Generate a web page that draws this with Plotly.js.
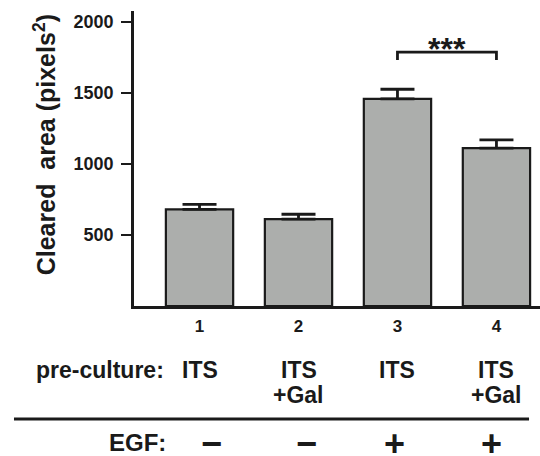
<!DOCTYPE html>
<html>
<head>
<meta charset="utf-8">
<script src="https://cdn.plot.ly/plotly-3.0.1.min.js"></script>
<style>html,body{margin:0;padding:0;background:#fff}#chart{width:540px;height:456px}</style>
</head>
<body>
<div id="chart"></div>
<script>
const groups = [1, 2, 3, 4];
const groupLabels = ["1", "2", "3", "4"];
const clearedArea = [681, 611, 1458, 1111];
const errorUp = [35, 35, 68, 58];
const preCulture = ["ITS", "ITS", "ITS", "ITS"];
const preCultureExtra = ["", "+Gal", "", "+Gal"];
const egf = ["\u2212", "\u2212", "+", "+"];
const yTicks = [500, 1000, 1500, 2000];
const sigPair = [3, 4];
const sigLabel = "***";
const sigLevel = 1788;

const FONT = "Liberation Sans, Arial, Helvetica, sans-serif";
const INK = "#1a1a1a";
const bold = (size) => ({family: FONT, size: size, color: INK, weight: "bold"});

const trace = {
  type: "bar",
  x: groups,
  y: clearedArea,
  width: 0.68,
  marker: {color: "#acaeac", line: {color: INK, width: 2.2}},
  error_y: {type: "data", symmetric: false, array: errorUp, arrayminus: groups.map(() => 0),
            color: INK, thickness: 2.8, width: 17},
  hoverinfo: "skip"
};

const egfShift = [12, 8, -3, -5];
const annotations = [];
// y axis title
annotations.push({xref: "paper", yref: "paper", x: -0.219, y: 0.545, xanchor: "center", yanchor: "middle",
  textangle: -90, showarrow: false, text: "Cleared\u00a0 area (pixels<sup>2</sup>)", font: bold(25)});
// row labels
annotations.push({xref: "paper", yref: "paper", x: 0.0788, y: -0.217, xanchor: "right", yanchor: "middle",
  showarrow: false, text: "pre-culture:", font: bold(23)});
annotations.push({xref: "paper", yref: "paper", x: 0.0837, y: -0.462, xanchor: "right", yanchor: "middle",
  showarrow: false, text: "EGF:", font: bold(24)});
groups.forEach((g, i) => {
  annotations.push({xref: "x", yref: "paper", x: g, y: -0.217, xanchor: "center", yanchor: "middle",
    showarrow: false, text: preCulture[i], font: bold(23)});
  if (preCultureExtra[i]) {
    annotations.push({xref: "x", yref: "paper", x: g, y: -0.302, xanchor: "center", yanchor: "middle",
      showarrow: false, text: preCultureExtra[i], font: bold(23)});
  }
  annotations.push({xref: "x", yref: "paper", x: g, y: -0.466, xanchor: "center", yanchor: "middle",
    xshift: egfShift[i], showarrow: false, text: egf[i], font: bold(36)});
});
// significance stars
annotations.push({xref: "x", yref: "y", x: (sigPair[0] + sigPair[1]) / 2, y: sigLevel - 118, xanchor: "center", yanchor: "bottom",
  showarrow: false, text: sigLabel, font: bold(32)});

const shapes = [
  {type: "path", xref: "x", yref: "y",
   path: `M ${sigPair[0]},${sigLevel - 56} L ${sigPair[0]},${sigLevel} L ${sigPair[1]},${sigLevel} L ${sigPair[1]},${sigLevel - 56}`,
   line: {color: INK, width: 2.8}},
  {type: "line", xref: "paper", yref: "paper", x0: -0.2956, x1: 0.973, y0: -0.383, y1: -0.383,
   line: {color: INK, width: 2.8}}
];

const layout = {
  width: 540, height: 456,
  margin: {l: 134, r: 0, t: 11, b: 150, pad: 0},
  paper_bgcolor: "#fff", plot_bgcolor: "#fff",
  font: bold(17),
  showlegend: false,
  xaxis: {range: [0.338, 4.44], tickvals: groups, ticktext: groupLabels, showgrid: false, zeroline: false,
          showline: true, linecolor: INK, linewidth: 2.8, ticks: "", ticklabelstandoff: 3,
          tickfont: bold(17), fixedrange: true},
  yaxis: {range: [0, 2077], tickvals: yTicks, showgrid: false, zeroline: false,
          showline: true, linecolor: INK, linewidth: 2.8, ticks: "outside", ticklen: 10, tickwidth: 2.8,
          tickcolor: INK, tickfont: bold(18), ticklabelstandoff: 4, fixedrange: true},
  annotations: annotations,
  shapes: shapes
};

Plotly.newPlot("chart", [trace], layout, {displayModeBar: false, staticPlot: true});
</script>
</body>
</html>
